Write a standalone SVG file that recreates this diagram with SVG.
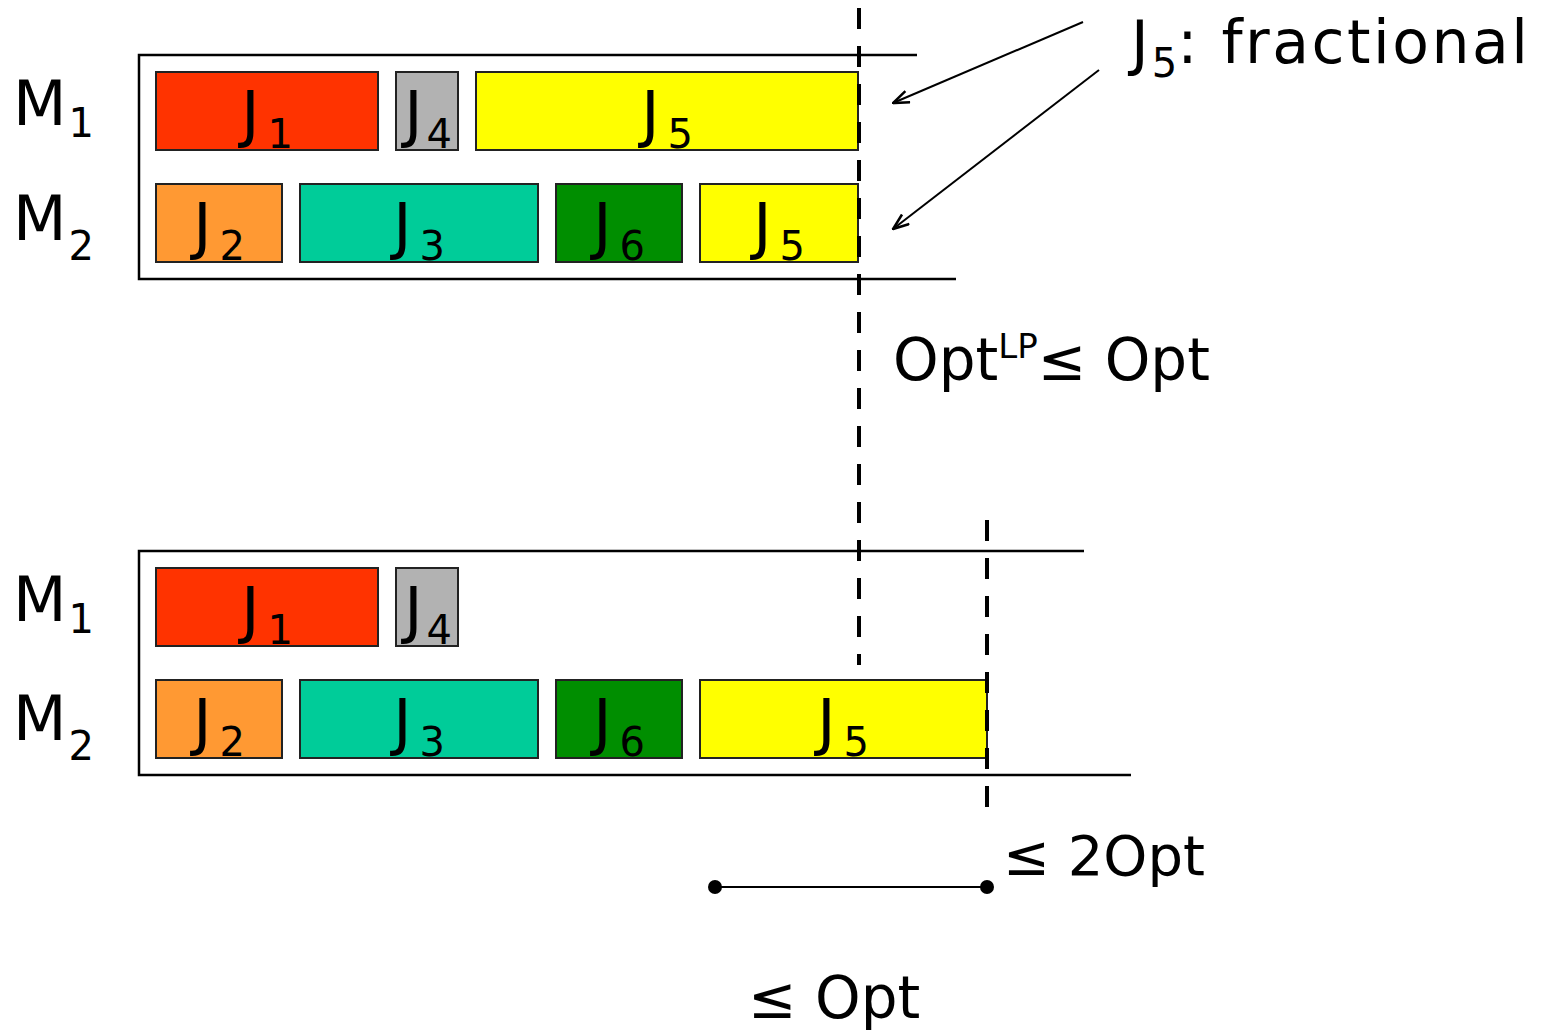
<svg xmlns="http://www.w3.org/2000/svg" width="1544" height="1035" viewBox="0 0 1544 1035">
  <style>
    .t { font-family: "DejaVu Sans", "Liberation Sans", sans-serif; fill: #000; }
    .job { stroke: #222; stroke-width: 2; }
    .jl { font-size: 62px; text-anchor: middle; }
    .sub { font-size: 40px; }
    .ml { font-size: 62px; }
    .frame { stroke: #000; stroke-width: 2.5; fill: none; }
    .dash { stroke: #000; stroke-width: 4; stroke-dasharray: 21 17; fill: none; }
    .arr { stroke: #000; stroke-width: 2; fill: none; }
    .c1 { fill: #FF3300; } .c2 { fill: #FF9933; } .c3 { fill: #00CC99; }
    .c4 { fill: #B2B2B2; } .c5 { fill: #FFFF00; } .c6 { fill: #008E00; }
  </style>
  <defs>
    <marker id="ah" markerWidth="18" markerHeight="14" refX="17" refY="7" orient="auto" markerUnits="userSpaceOnUse">
      <path d="M1,1 L17,7 L1,13" fill="none" stroke="#000" stroke-width="2.5"/>
    </marker>
  </defs>
  <rect width="1544" height="1035" fill="#fff"/>

  <!-- fractional (LP) schedule -->
  <g id="schedule-lp">
    <path class="frame" d="M917,55 H139 V279 H956"/>
    <text class="t ml" x="13" y="125">M<tspan class="sub" dy="12" dx="2">1</tspan></text>
    <text class="t ml" x="13" y="240">M<tspan class="sub" dy="20" dx="2">2</tspan></text>
  </g>
  <g id="lp-j1"><rect class="job c1" x="156" y="72" width="222" height="78"/><text class="t jl" x="267" y="135">J<tspan class="sub" dy="13" dx="8">1</tspan></text></g>
  <g id="lp-j4"><rect class="job c4" x="396" y="72" width="62" height="78"/><text class="t jl" x="428" y="135">J<tspan class="sub" dy="13" dx="4">4</tspan></text></g>
  <g id="lp-j5a"><rect class="job c5" x="476" y="72" width="382" height="78"/><text class="t jl" x="667" y="135">J<tspan class="sub" dy="13" dx="8">5</tspan></text></g>
  <g id="lp-j2"><rect class="job c2" x="156" y="184" width="126" height="78"/><text class="t jl" x="219" y="247">J<tspan class="sub" dy="13" dx="8">2</tspan></text></g>
  <g id="lp-j3"><rect class="job c3" x="300" y="184" width="238" height="78"/><text class="t jl" x="419" y="247">J<tspan class="sub" dy="13" dx="8">3</tspan></text></g>
  <g id="lp-j6"><rect class="job c6" x="556" y="184" width="126" height="78"/><text class="t jl" x="619" y="247">J<tspan class="sub" dy="13" dx="8">6</tspan></text></g>
  <g id="lp-j5b"><rect class="job c5" x="700" y="184" width="158" height="78"/><text class="t jl" x="779" y="247">J<tspan class="sub" dy="13" dx="8">5</tspan></text></g>

  <!-- rounded schedule -->
  <g id="schedule-int">
    <path class="frame" d="M1084,551 H139 V775 H1131"/>
    <text class="t ml" x="13" y="621">M<tspan class="sub" dy="12" dx="2">1</tspan></text>
    <text class="t ml" x="13" y="740">M<tspan class="sub" dy="20" dx="2">2</tspan></text>
  </g>
  <g id="int-j1"><rect class="job c1" x="156" y="568" width="222" height="78"/><text class="t jl" x="267" y="631">J<tspan class="sub" dy="13" dx="8">1</tspan></text></g>
  <g id="int-j4"><rect class="job c4" x="396" y="568" width="62" height="78"/><text class="t jl" x="428" y="631">J<tspan class="sub" dy="13" dx="4">4</tspan></text></g>
  <g id="int-j2"><rect class="job c2" x="156" y="680" width="126" height="78"/><text class="t jl" x="219" y="743">J<tspan class="sub" dy="13" dx="8">2</tspan></text></g>
  <g id="int-j3"><rect class="job c3" x="300" y="680" width="238" height="78"/><text class="t jl" x="419" y="743">J<tspan class="sub" dy="13" dx="8">3</tspan></text></g>
  <g id="int-j6"><rect class="job c6" x="556" y="680" width="126" height="78"/><text class="t jl" x="619" y="743">J<tspan class="sub" dy="13" dx="8">6</tspan></text></g>
  <g id="int-j5"><rect class="job c5" x="700" y="680" width="287" height="78"/><text class="t jl" x="843" y="743">J<tspan class="sub" dy="13" dx="8">5</tspan></text></g>

  <!-- bounds and annotations -->
  <g id="connectors">
    <line class="dash" x1="859" y1="8" x2="859" y2="665"/>
    <line class="dash" x1="987" y1="520" x2="987" y2="822"/>
    <line class="arr" x1="1083" y1="22" x2="893" y2="103" marker-end="url(#ah)"/>
    <line class="arr" x1="1099" y1="70" x2="893" y2="229" marker-end="url(#ah)"/>
    <line class="arr" x1="715" y1="887" x2="987" y2="887"/>
    <circle cx="715" cy="887" r="7"/>
    <circle cx="987" cy="887" r="7"/>
  </g>
  <g id="labels">
    <text class="t" font-size="60" x="1131" y="63">J<tspan class="sub" dy="14" dx="3">5</tspan><tspan dy="-14" letter-spacing="2.5">: fractional</tspan></text>
    <text class="t" font-size="58" x="893" y="380">Opt<tspan font-size="34" dy="-22">LP</tspan><tspan dy="22">≤ Opt</tspan></text>
    <text class="t" font-size="56" x="1003" y="875">≤ 2Opt</text>
    <text class="t" font-size="58" x="748" y="1018">≤ Opt</text>
  </g>
</svg>
